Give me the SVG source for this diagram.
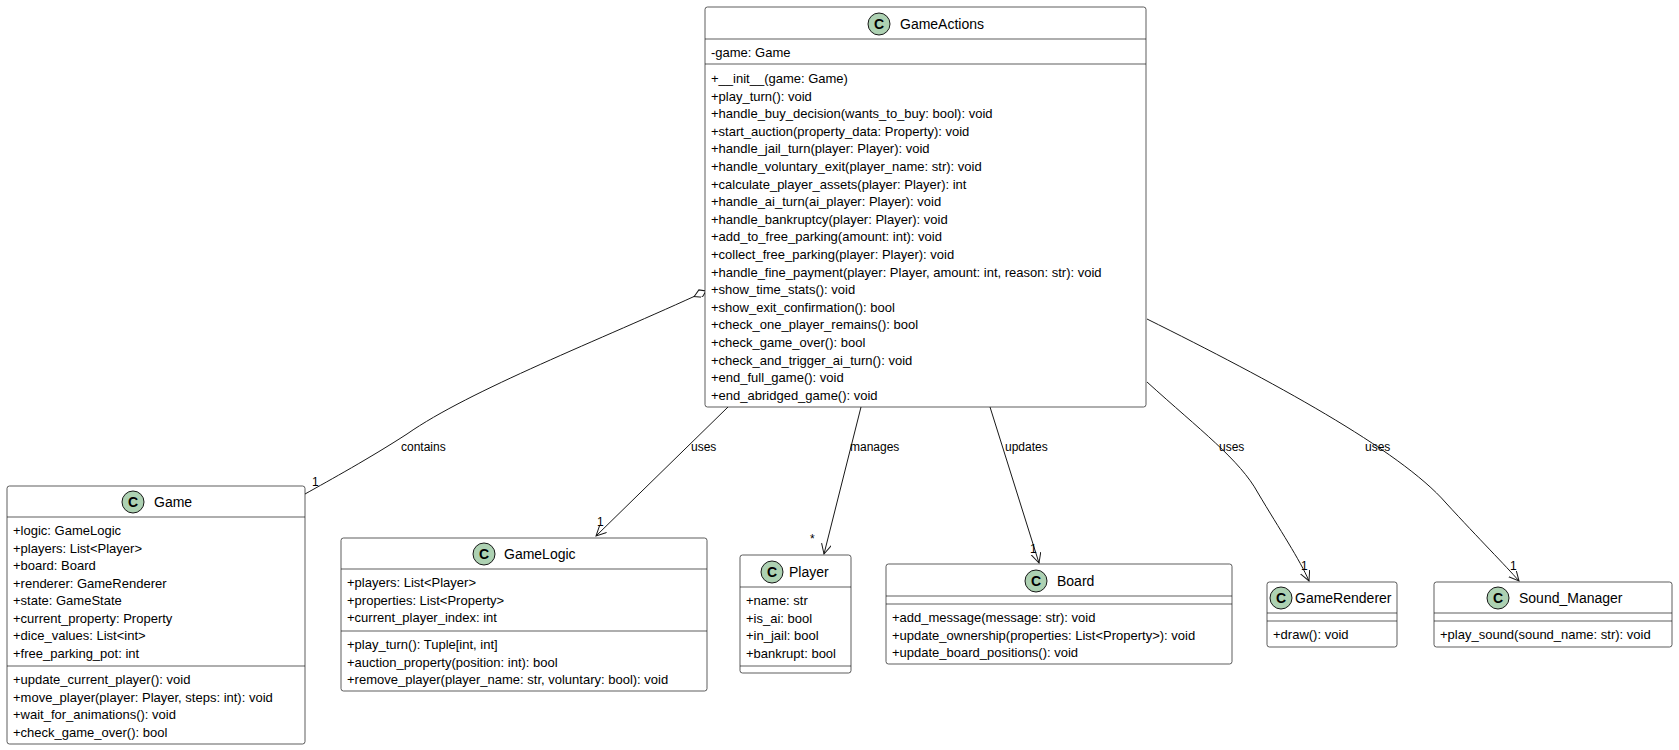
<svg xmlns="http://www.w3.org/2000/svg" width="1679" height="750" viewBox="0 0 1679 750">
<style>
text{font-family:"Liberation Sans",Arial,sans-serif;font-size:13px;fill:#000}
.box{fill:#fff;stroke:#181818;stroke-width:0.7}
.div{stroke:#181818;stroke-width:0.7}
.ic{fill:#ADD1B2;stroke:#181818;stroke-width:1}
.icl{font-weight:bold;font-size:14px;text-anchor:middle}
.nm{font-size:14px}
.ln{fill:none;stroke:#181818;stroke-width:1}
</style>
<defs>
<marker id="arr" markerWidth="12" markerHeight="12" refX="10" refY="5" orient="auto" markerUnits="userSpaceOnUse">
<path d="M0,0 L10,5 L0,10" fill="none" stroke="#181818" stroke-width="1"/>
</marker>
<marker id="dia" markerWidth="16" markerHeight="10" refX="1" refY="4" orient="auto" markerUnits="userSpaceOnUse">
<path d="M1,4 L7,0 L14,4 L7,8 Z" fill="#fff" stroke="#181818" stroke-width="1"/>
</marker>
</defs>
<g id="connectors">
<path class="ln" d="M706,291 C600,340 470,390 407,434 C370,458 330,480 305,494" marker-start="url(#dia)"/>
<text x="401" y="451" style="font-size:12px">contains</text><text x="312" y="486" style="font-size:12px">1</text>
<path class="ln" d="M728,407 L596,536" marker-end="url(#arr)"/>
<text x="691" y="451" style="font-size:12px">uses</text><text x="597" y="526" style="font-size:12px">1</text>
<path class="ln" d="M861,407 L824,554" marker-end="url(#arr)"/>
<text x="850" y="451" style="font-size:12px">manages</text><text x="810" y="543" style="font-size:12px">*</text>
<path class="ln" d="M990,407 L1039,563" marker-end="url(#arr)"/>
<text x="1005" y="451" style="font-size:12px">updates</text><text x="1030" y="553" style="font-size:12px">1</text>
<path class="ln" d="M1147,382 C1200,430 1240,460 1258,493 C1280,530 1300,560 1309,581" marker-end="url(#arr)"/>
<text x="1219" y="451" style="font-size:12px">uses</text><text x="1301" y="570" style="font-size:12px">1</text>
<path class="ln" d="M1147,319 C1270,380 1400,450 1446,503 C1480,540 1505,565 1519,581" marker-end="url(#arr)"/>
<text x="1365" y="451" style="font-size:12px">uses</text><text x="1510" y="570" style="font-size:12px">1</text>
</g>
<g id="GameActions">
<rect class="box" x="705" y="7" width="441" height="400" rx="2.5"/>
<circle class="ic" cx="879" cy="24" r="11"/><text class="icl" x="879" y="29">C</text>
<text class="nm" x="900" y="29">GameActions</text>
<line class="div" x1="705" y1="39" x2="1146" y2="39"/>
<text x="711" y="57">-game: Game</text>
<line class="div" x1="705" y1="64" x2="1146" y2="64"/>
<text x="711" y="83">+__init__(game: Game)</text>
<text x="711" y="100.6">+play_turn(): void</text>
<text x="711" y="118.2">+handle_buy_decision(wants_to_buy: bool): void</text>
<text x="711" y="135.8">+start_auction(property_data: Property): void</text>
<text x="711" y="153.4">+handle_jail_turn(player: Player): void</text>
<text x="711" y="171">+handle_voluntary_exit(player_name: str): void</text>
<text x="711" y="188.6">+calculate_player_assets(player: Player): int</text>
<text x="711" y="206.2">+handle_ai_turn(ai_player: Player): void</text>
<text x="711" y="223.8">+handle_bankruptcy(player: Player): void</text>
<text x="711" y="241.4">+add_to_free_parking(amount: int): void</text>
<text x="711" y="259">+collect_free_parking(player: Player): void</text>
<text x="711" y="276.6">+handle_fine_payment(player: Player, amount: int, reason: str): void</text>
<text x="711" y="294.2">+show_time_stats(): void</text>
<text x="711" y="311.8">+show_exit_confirmation(): bool</text>
<text x="711" y="329.4">+check_one_player_remains(): bool</text>
<text x="711" y="347">+check_game_over(): bool</text>
<text x="711" y="364.6">+check_and_trigger_ai_turn(): void</text>
<text x="711" y="382.2">+end_full_game(): void</text>
<text x="711" y="399.8">+end_abridged_game(): void</text>
</g>
<g id="Game">
<rect class="box" x="7" y="486" width="298" height="258" rx="2.5"/>
<circle class="ic" cx="133" cy="502" r="11"/><text class="icl" x="133" y="507">C</text>
<text class="nm" x="154" y="507">Game</text>
<line class="div" x1="7" y1="517" x2="305" y2="517"/>
<text x="13" y="535">+logic: GameLogic</text>
<text x="13" y="552.5">+players: List&lt;Player&gt;</text>
<text x="13" y="570">+board: Board</text>
<text x="13" y="587.5">+renderer: GameRenderer</text>
<text x="13" y="605">+state: GameState</text>
<text x="13" y="622.5">+current_property: Property</text>
<text x="13" y="640">+dice_values: List&lt;int&gt;</text>
<text x="13" y="657.5">+free_parking_pot: int</text>
<line class="div" x1="7" y1="666" x2="305" y2="666"/>
<text x="13" y="684">+update_current_player(): void</text>
<text x="13" y="701.5">+move_player(player: Player, steps: int): void</text>
<text x="13" y="719">+wait_for_animations(): void</text>
<text x="13" y="736.5">+check_game_over(): bool</text>
</g>
<g id="GameLogic">
<rect class="box" x="341" y="538" width="366" height="153" rx="2.5"/>
<circle class="ic" cx="484" cy="554" r="11"/><text class="icl" x="484" y="559">C</text>
<text class="nm" x="504" y="559">GameLogic</text>
<line class="div" x1="341" y1="569" x2="707" y2="569"/>
<text x="347" y="587">+players: List&lt;Player&gt;</text>
<text x="347" y="604.5">+properties: List&lt;Property&gt;</text>
<text x="347" y="622">+current_player_index: int</text>
<line class="div" x1="341" y1="631" x2="707" y2="631"/>
<text x="347" y="649">+play_turn(): Tuple[int, int]</text>
<text x="347" y="666.5">+auction_property(position: int): bool</text>
<text x="347" y="684">+remove_player(player_name: str, voluntary: bool): void</text>
</g>
<g id="Player">
<rect class="box" x="740" y="555" width="111" height="118" rx="2.5"/>
<circle class="ic" cx="772" cy="572" r="11"/><text class="icl" x="772" y="577">C</text>
<text class="nm" x="789" y="577">Player</text>
<line class="div" x1="740" y1="587" x2="851" y2="587"/>
<text x="746" y="605">+name: str</text>
<text x="746" y="622.5">+is_ai: bool</text>
<text x="746" y="640">+in_jail: bool</text>
<text x="746" y="657.5">+bankrupt: bool</text>
<line class="div" x1="740" y1="666" x2="851" y2="666"/>
</g>
<g id="Board">
<rect class="box" x="886" y="564" width="346" height="100" rx="2.5"/>
<circle class="ic" cx="1036" cy="581" r="11"/><text class="icl" x="1036" y="586">C</text>
<text class="nm" x="1057" y="586">Board</text>
<line class="div" x1="886" y1="596" x2="1232" y2="596"/>
<line class="div" x1="886" y1="604" x2="1232" y2="604"/>
<text x="892" y="622">+add_message(message: str): void</text>
<text x="892" y="639.5">+update_ownership(properties: List&lt;Property&gt;): void</text>
<text x="892" y="657">+update_board_positions(): void</text>
</g>
<g id="GameRenderer">
<rect class="box" x="1267" y="582" width="130" height="65" rx="2.5"/>
<circle class="ic" cx="1281" cy="598" r="11"/><text class="icl" x="1281" y="603">C</text>
<text class="nm" x="1295" y="603">GameRenderer</text>
<line class="div" x1="1267" y1="613" x2="1397" y2="613"/>
<line class="div" x1="1267" y1="621" x2="1397" y2="621"/>
<text x="1273" y="639">+draw(): void</text>
</g>
<g id="Sound_Manager">
<rect class="box" x="1434" y="582" width="238" height="65" rx="2.5"/>
<circle class="ic" cx="1498" cy="598" r="11"/><text class="icl" x="1498" y="603">C</text>
<text class="nm" x="1519" y="603">Sound_Manager</text>
<line class="div" x1="1434" y1="613" x2="1672" y2="613"/>
<line class="div" x1="1434" y1="621" x2="1672" y2="621"/>
<text x="1440" y="639">+play_sound(sound_name: str): void</text>
</g>
</svg>
